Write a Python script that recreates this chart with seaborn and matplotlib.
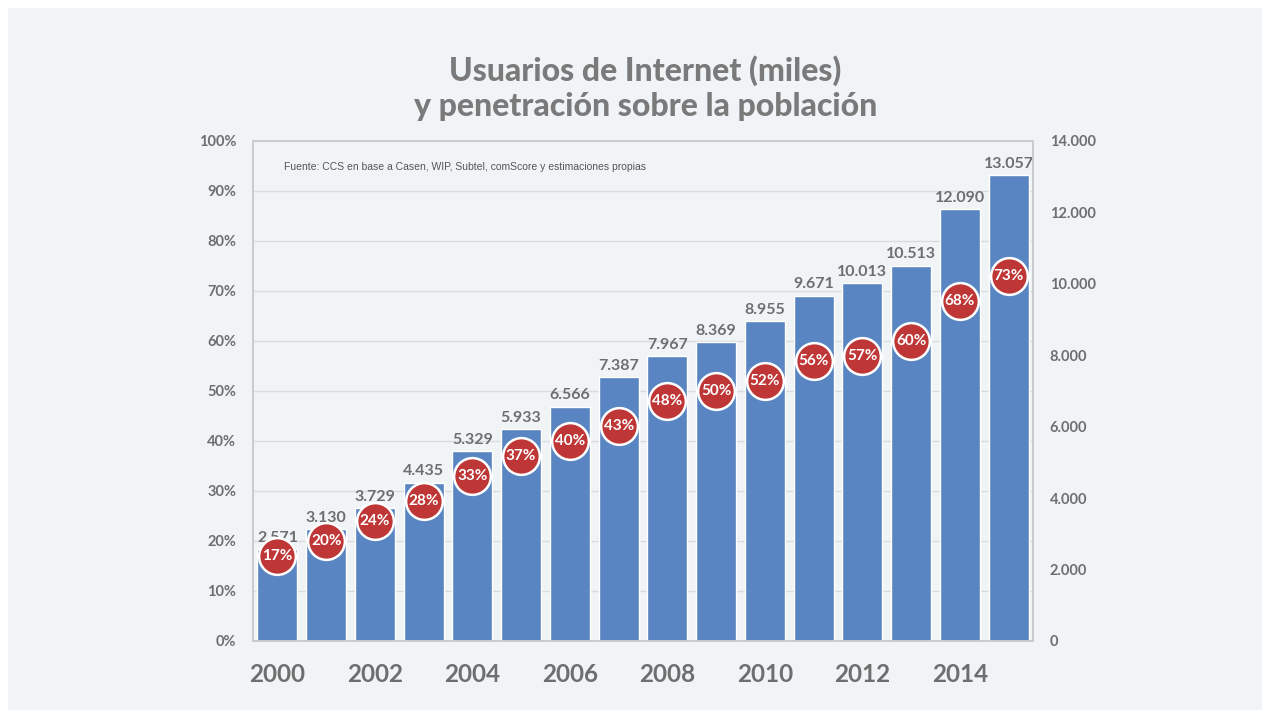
import matplotlib
matplotlib.use("Agg")
import matplotlib.pyplot as plt
import seaborn as sns
import pandas as pd
from matplotlib.patches import Rectangle

years = [2000, 2001, 2002, 2003, 2004, 2005, 2006, 2007, 2008, 2009, 2010, 2011, 2012, 2013, 2014, 2015]
users = [2571, 3130, 3729, 4435, 5329, 5933, 6566, 7387, 7967, 8369, 8955, 9671, 10013, 10513, 12090, 13057]
penetration = [17, 20, 24, 28, 33, 37, 40, 43, 48, 50, 52, 56, 57, 60, 68, 73]
left_ticks = [0, 10, 20, 30, 40, 50, 60, 70, 80, 90, 100]
right_ticks = [0, 2000, 4000, 6000, 8000, 10000, 12000, 14000]
title = "Usuarios de Internet (miles)\ny penetración sobre la población"
source = "Fuente: CCS en base a Casen, WIP, Subtel, comScore y estimaciones propias"

sns.set_theme(style="white")
plt.rcParams['font.family'] = ['Lato', 'DejaVu Sans']

df = pd.DataFrame({"year": [str(y) for y in years], "users": users, "pct": penetration})

BG = "#f1f4f6"
TXT = "#6e6e6e"
fig = plt.figure(figsize=(12.7, 7.18), dpi=100, facecolor="white")
fig.patches.append(Rectangle((8 / 1270, 8 / 718), 1 - 16 / 1270, 1 - 16 / 718,
                             transform=fig.transFigure, facecolor=BG, edgecolor="none", zorder=-10))

ax = fig.add_axes([253 / 1270, 1 - 641 / 718, 780 / 1270, 500 / 718])
ax.set_facecolor(BG)
ax.set_ylim(0, 100)
ax.set_yticks(left_ticks)
ax.set_yticklabels([f"{t}%" for t in left_ticks])
ax.yaxis.grid(True, color="#d9dcdf", linewidth=1.0)
ax.set_axisbelow(True)
ax.tick_params(axis="y", length=0, pad=12, labelsize=10.5, labelcolor=TXT)

# bars on right axis
ax2 = ax.twinx()
sns.barplot(data=df, x="year", y="users", ax=ax2, color="#5985c2", saturation=1, width=0.82)
ax2.set_ylim(0, 14000)
ax2.set_yticks(right_ticks)
ax2.set_yticklabels([f"{t:,}".replace(",", ".") for t in right_ticks])
ax2.tick_params(axis="y", length=0, pad=12, labelsize=10.5, labelcolor=TXT)
ax2.set_ylabel("")
ax2.set_xlabel("")
ax2.bar_label(ax2.containers[0], labels=[f"{v:,}".replace(",", ".") for v in users],
              padding=3, fontsize=11.5, fontweight="bold", color=TXT)

# circles on percent axis
ax3 = ax.twinx()
sns.scatterplot(data=df, x="year", y="pct", ax=ax3, s=700, color="#bf3636",
                edgecolor="white", linewidth=1.8, zorder=5, legend=False)
ax3.set_ylim(0, 100)
ax3.set_yticks([])
ax3.set_ylabel("")
ax3.set_xlabel("")
for i, p in enumerate(penetration):
    ax3.text(i, p, f"{p}%", ha="center", va="center", color="white",
             fontsize=11, fontweight="bold", zorder=6)

# shared x axis: labels drawn by the base axes
ax.set_xlim(-0.5, len(years) - 0.5)
ax.set_xticks(range(len(years)))
ax.set_xticklabels([str(y) if y % 2 == 0 else "" for y in years])
ax.tick_params(axis="x", length=0, pad=16, labelsize=17.5, labelcolor=TXT, labelbottom=True)

for a in (ax, ax2, ax3):
    for s in a.spines.values():
        s.set_color("#c9cccf")
        s.set_linewidth(1.2)

ax.text(0.04, 0.947, source, transform=ax.transAxes, fontsize=7.5, color="#555555",
        ha="left", va="center", family=["Liberation Sans", "DejaVu Sans"])

fig.text(0.508, 0.877, title, ha="center", va="center", fontsize=23, fontweight="black",
         color="#7a7a7a", linespacing=1.25)

fig.canvas.draw()
for lbl in ax.get_xticklabels() + ax.get_yticklabels() + ax2.get_yticklabels():
    lbl.set_fontweight("bold")

fig.savefig("out.png", dpi=100, facecolor=fig.get_facecolor())
